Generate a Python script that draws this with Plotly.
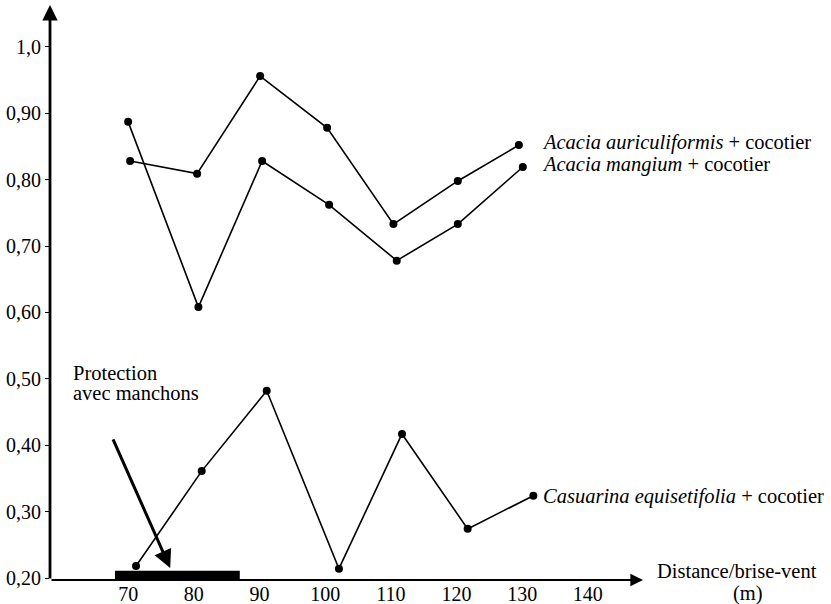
import plotly.graph_objects as go

# Data
x_mangium = [70, 80.7, 90.4, 100.6, 110.9, 120.2, 130.1]
y_mangium = [0.887, 0.608, 0.828, 0.762, 0.678, 0.733, 0.819]

x_auric = [70.3, 80.5, 90.1, 100.3, 110.4, 120.2, 129.5]
y_auric = [0.828, 0.809, 0.956, 0.878, 0.733, 0.798, 0.852]

x_casuarina = [71.2, 81.2, 91.1, 102.1, 111.7, 121.7, 131.7]
y_casuarina = [0.218, 0.361, 0.482, 0.214, 0.417, 0.274, 0.324]

y_ticks = [0.2, 0.3, 0.4, 0.5, 0.6, 0.7, 0.8, 0.9, 1.0]
y_tick_labels = ["0,20", "0,30", "0,40", "0,50", "0,60", "0,70", "0,80", "0,90", "1,0"]
x_ticks = [70, 80, 90, 100, 110, 120, 130, 140]
x_tick_labels = ["70", "80", "90", "100", "110", "120", "130", "140"]

protection_range = [68.0, 87.0]
protection_arrow_tail = [67.6, 0.411]
protection_arrow_head = [76.4, 0.215]

FONT = "Liberation Serif"
FS = 20.5

L, R, T, B = 50, 188, 5, 24
W, H = 831, 604

fig = go.Figure()
for xs, ys in [(x_mangium, y_mangium), (x_auric, y_auric), (x_casuarina, y_casuarina)]:
    fig.add_trace(go.Scatter(
        x=xs, y=ys, mode="lines+markers",
        line=dict(color="black", width=1.6),
        marker=dict(color="black", size=8),
        showlegend=False, cliponaxis=False, hoverinfo="skip",
    ))

# protection bar
fig.add_shape(type="rect", xref="x", yref="y",
              x0=protection_range[0], x1=protection_range[1], y0=0.197, y1=0.211,
              fillcolor="black", line=dict(width=0))

# y axis arrow
fig.add_annotation(x=0, y=1, xref="paper", yref="paper", ax=0, ay=H - T - B,
                   showarrow=True, arrowhead=2, arrowwidth=2.8, arrowsize=1.1,
                   arrowcolor="black", text="")
# x axis arrow
fig.add_annotation(x=1, y=0, xref="paper", yref="paper", ax=-(W - L - R), ay=0,
                   showarrow=True, arrowhead=2, arrowwidth=1.8, arrowsize=1.4,
                   arrowcolor="black", text="")
# protection arrow
fig.add_annotation(x=protection_arrow_head[0], y=protection_arrow_head[1], xref="x", yref="y",
                   ax=protection_arrow_tail[0], ay=protection_arrow_tail[1], axref="x", ayref="y",
                   showarrow=True, arrowhead=2, arrowwidth=3, arrowsize=1.2,
                   arrowcolor="black", text="")


def add_text(px, py, text, anchor="left"):
    # px, py in page pixel coords -> paper coords
    fig.add_annotation(
        x=(px - L) / (W - L - R), y=(H - B - py) / (H - T - B),
        xref="paper", yref="paper", text=text, showarrow=False,
        xanchor=anchor, yanchor="middle", align="left",
        font=dict(family=FONT, size=FS, color="black"),
    )


add_text(71, 373, "Protection")
add_text(71, 393, "avec manchons")
add_text(540, 142, "<i>Acacia auriculiformis</i> + cocotier")
add_text(540, 164, "<i>Acacia mangium</i> + cocotier")
add_text(541, 496, "<i>Casuarina equisetifolia</i> + cocotier")
add_text(655, 571, "Distance/brise-vent")
add_text(748, 593, "(m)", anchor="center")

fig.update_layout(
    width=W, height=H,
    margin=dict(l=L, r=R, t=T, b=B),
    plot_bgcolor="white", paper_bgcolor="white",
    font=dict(family=FONT, size=FS, color="black"),
    hovermode=False,
    xaxis=dict(range=[58.1, 148.4], tickvals=x_ticks, ticktext=x_tick_labels,
               showline=False, showgrid=False, zeroline=False, ticks="",
               automargin=False, tickfont=dict(size=20)),
    yaxis=dict(range=[0.197, 1.063], tickvals=y_ticks, ticktext=y_tick_labels,
               showline=False, showgrid=False, zeroline=False,
               ticks="outside", ticklen=4, tickcolor="black", tickwidth=1,
               automargin=False, tickfont=dict(size=20)),
)

fig.write_html("out.html", config={"displayModeBar": False},
               post_script="document.body.style.margin='0';document.body.style.padding='0';")
